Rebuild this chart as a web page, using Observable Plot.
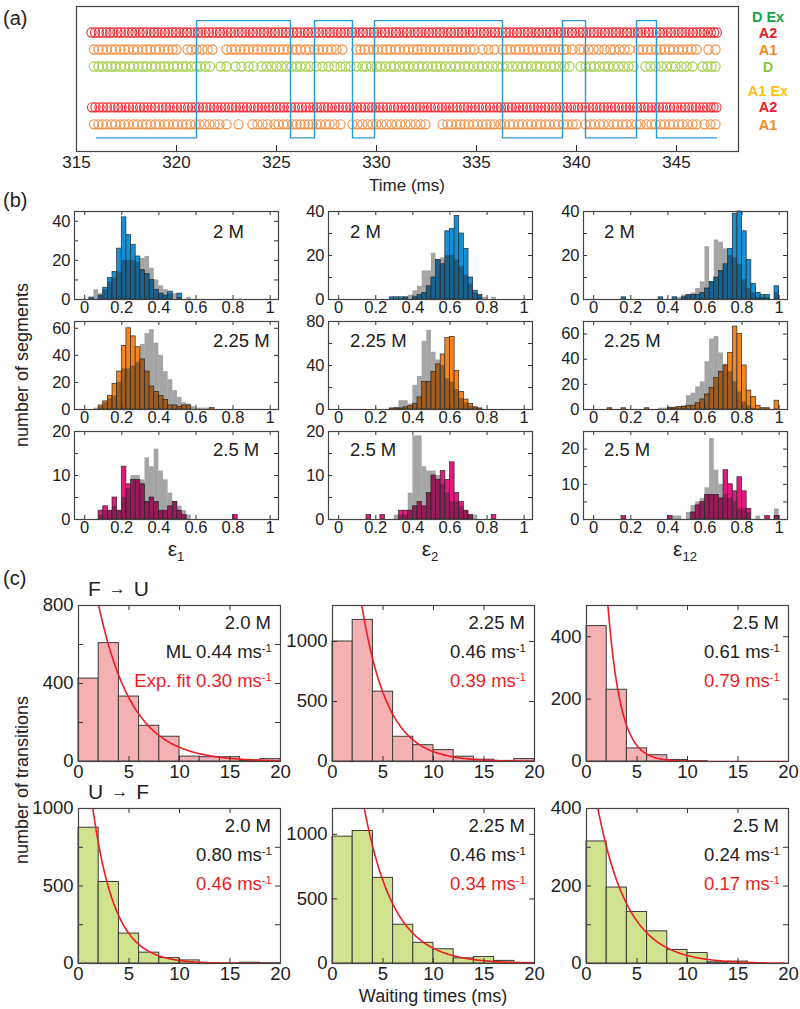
<!DOCTYPE html>
<html><head><meta charset="utf-8">
<script src="https://cdn.jsdelivr.net/npm/d3@7"></script>
<script src="https://cdn.jsdelivr.net/npm/@observablehq/plot@0.6"></script>
<style>
body{margin:0;background:#fff;}
#root{position:relative;width:800px;height:1009px;font-family:"Liberation Sans",Arial,sans-serif;color:#222;overflow:hidden;background:#fff}
.abs{position:absolute;white-space:nowrap;line-height:1}
.sup{font-size:0.62em;position:relative;top:-0.55em}
</style></head><body><div id="root"></div>
<script>
// ---------------- DATA ----------------
// Panel (a): photon arrival times (ms) per detection row
const dexA2 = [315.75,315.93,316.12,316.3,316.5,316.68,316.85,317.05,317.22,317.4,317.6,317.78,317.95,318.15,318.32,318.5,318.7,318.88,319.05,319.25,319.42,319.6,319.8,319.97,320.15,320.35,320.52,320.7,320.9,321.07,321.25,321.45,321.62,321.8,322.0,322.17,322.35,322.55,322.72,322.9,323.1,323.27,323.45,323.65,323.82,324.0,324.2,324.37,324.55,324.75,324.92,325.1,325.3,325.47,325.65,325.85,326.02,326.2,326.4,326.57,326.75,326.95,327.12,327.3,327.5,327.67,327.85,328.05,328.22,328.4,328.6,328.77,328.95,329.15,329.32,329.5,329.7,329.87,330.05,330.25,330.42,330.6,330.8,330.97,331.15,331.35,331.52,331.7,331.9,332.07,332.25,332.45,332.62,332.8,333.0,333.17,333.35,333.55,333.72,333.9,334.1,334.27,334.45,334.65,334.82,335.0,335.2,335.37,335.55,335.75,335.92,336.1,336.3,336.47,336.65,336.85,337.02,337.2,337.4,337.57,337.75,337.95,338.12,338.3,338.5,338.67,338.85,339.05,339.22,339.4,339.6,339.77,339.95,340.15,340.32,340.5,340.7,340.87,341.05,341.25,341.42,341.6,341.8,341.97,342.15,342.35,342.52,342.7,342.9,343.07,343.25,343.45,343.62,343.8,344.0,344.17,344.35,344.55,344.72,344.9,345.1,345.27,345.45,345.65,345.82,346.0,346.2,346.37,346.55,346.72,346.88,347.02];
const dexA1 = [315.87,316.1,316.3,316.5,316.75,316.95,317.2,317.4,317.6,317.85,318.05,318.3,318.5,318.7,318.95,319.15,319.4,319.6,319.8,320.0,320.55,320.75,321.0,321.3,321.55,321.8,322.5,322.75,322.95,323.2,323.4,323.6,323.85,324.05,324.25,324.5,324.7,324.9,325.15,325.35,325.55,325.8,326.0,326.2,326.45,326.65,326.9,327.1,327.3,327.55,327.75,328.0,328.3,329.0,329.2,329.4,329.6,329.85,330.05,330.3,330.5,330.7,330.95,331.15,331.4,331.6,331.85,332.05,332.25,332.45,332.7,332.9,333.15,333.35,333.6,333.8,334.0,334.25,334.45,334.7,334.9,335.3,335.6,335.9,336.3,336.5,336.7,336.95,337.15,337.4,337.6,337.8,338.05,338.25,338.5,338.7,338.9,339.15,339.35,339.5,339.8,340.15,340.35,340.6,340.85,341.1,341.4,341.7,341.9,342.15,342.4,342.65,343.1,343.3,343.55,343.75,344.0,344.2,344.4,344.65,344.85,345.1,345.3,345.55,345.75,346.0,346.6,346.95];
const dexD = [315.87,316.1,316.3,316.55,316.75,316.95,317.2,317.4,317.65,317.85,318.1,318.3,318.5,318.75,318.95,319.2,319.4,319.6,319.85,320.05,320.3,320.5,320.75,321.0,321.2,321.45,321.67,322.2,322.5,322.95,323.25,323.6,323.85,324.25,324.5,324.75,325.0,325.25,325.5,325.75,326.0,326.2,326.45,326.7,327.0,327.3,327.6,327.9,328.2,328.45,328.7,329.0,329.3,329.5,329.75,330.0,330.2,330.45,330.7,330.9,331.15,331.4,331.6,331.85,332.1,332.3,332.55,332.8,333.0,333.2,333.45,333.7,333.95,334.15,334.4,334.6,334.85,335.1,335.3,335.55,335.8,336.05,336.3,336.55,336.8,337.05,337.3,337.5,337.75,338.0,338.2,338.45,338.7,338.9,339.15,339.4,339.65,340.2,340.45,340.7,340.9,341.15,341.4,341.6,341.85,342.1,342.35,342.6,342.85,343.45,343.7,343.95,344.25,344.5,344.75,344.95,345.25,345.5,345.8,346.3,346.55,346.75,346.95];
const aexA2 = [315.78,315.95,316.15,316.33,316.52,316.7,316.9,317.08,317.25,317.45,317.63,317.82,318.0,318.18,318.37,318.55,318.74,318.92,319.1,319.3,319.48,319.66,319.85,320.03,320.22,320.4,320.58,320.77,320.95,321.13,321.32,321.5,321.69,321.87,322.05,322.24,322.42,322.6,322.79,322.97,323.16,323.34,323.52,323.71,323.89,324.08,324.26,324.44,324.63,324.81,325.0,325.18,325.36,325.55,325.73,325.92,326.1,326.28,326.47,326.65,326.84,327.02,327.2,327.39,327.57,327.76,327.94,328.12,328.31,328.49,328.68,328.86,329.04,329.23,329.41,329.6,329.78,329.96,330.15,330.33,330.52,330.7,330.88,331.07,331.25,331.44,331.62,331.8,331.99,332.17,332.36,332.54,332.72,332.91,333.09,333.28,333.46,333.64,333.83,334.01,334.2,334.38,334.56,334.75,334.93,335.12,335.3,335.48,335.67,335.85,336.04,336.22,336.4,336.59,336.77,336.96,337.14,337.32,337.51,337.69,337.88,338.06,338.24,338.43,338.61,338.8,338.98,339.16,339.35,339.53,339.72,339.9,340.08,340.27,340.45,340.64,340.82,341.0,341.19,341.37,341.56,341.74,341.92,342.11,342.29,342.48,342.66,342.84,343.03,343.21,343.4,343.58,343.76,343.95,344.13,344.32,344.5,344.68,344.87,345.05,345.24,345.42,345.6,345.79,345.97,346.16,346.34,346.52,346.71,346.85,347.0];
const aexA1 = [315.87,316.1,316.3,316.5,316.75,316.95,317.2,317.4,317.6,317.85,318.05,318.3,318.5,318.7,318.95,319.15,319.4,319.6,319.85,320.05,320.3,320.5,320.7,320.95,321.15,321.4,321.65,321.9,322.15,322.5,323.1,323.8,324.05,324.3,324.55,324.9,325.1,325.35,325.55,325.8,326.0,326.2,326.4,326.6,326.8,327.0,327.2,327.45,327.65,327.9,328.2,328.8,329.05,329.3,329.55,329.8,330.0,330.25,330.5,330.75,331.0,331.2,331.45,331.7,331.95,332.2,332.45,333.3,333.55,333.75,334.0,334.2,334.4,334.6,334.85,335.05,335.3,335.5,335.7,335.9,336.2,336.4,336.65,336.85,337.1,337.3,337.55,337.75,338.0,338.2,338.45,338.65,338.9,339.1,339.35,339.55,339.8,340.0,340.45,340.7,340.9,341.15,341.35,341.6,341.85,342.05,342.3,342.5,342.75,343.0,343.2,343.5,343.75,343.95,344.2,344.4,344.65,344.85,345.1,345.3,345.55,345.8,346.0,346.4,346.7,346.95];
// state trace (ms) and state (1 = high)
const traceTimes = [316.0,321.0,325.7,326.9,328.8,329.9,336.3,339.3,340.45,343.0,344.0,347.0];
const traceState = [0,1,0,1,0,1,0,1,0,1,0,0];

// Panel (b): histogram counts, bins of width 0.025 starting at 0
const e1_2M   = [0,1,0,2,6,11,14,26,42,33,28,22,15,13,10,5,3,2,4,0,3,0,0,0,0,0,0,0,0,0,0,0,0,0,0,0,0,0,0,0];
const e1_2M_g = [0,0,5,3,5,9,11,14,20,20,20,19,21,22,16,10,7,5,3,3,1,0,1,0,0,0,0,0,0,0,0,0,0,0,0,0,0,0,0,0];
const e1_225   = [0,0,0,3,6,10,19,28,47,60,54,46,37,28,17,13,10,7,3,3,2,3,3,0,0,0,0,1,0,0,0,0,0,0,0,0,0,0,0,0];
const e1_225_g = [0,0,1,2,5,8,10,20,30,30,32,35,48,56,59,49,40,28,22,14,9,5,4,2,1,1,1,0,0,0,0,0,0,0,0,0,0,0,0,0];
const e1_25   = [0,0,0,2,3,2,5,2,12,8,9,9,8,4,5,4,2,2,3,4,2,1,0,0,0,0,0,0,0,0,0,0,1,0,0,0,0,0,0,0];
const e1_25_g = [0,0,0,1,2,2,3,2,5,7,10,10,9,14,12,16,11,9,6,4,3,2,1,0,0,0,0,0,0,0,0,0,0,0,0,0,0,0,0,0];
const e2_2M   = [0,0,0,0,0,0,0,0,0,0,0,1,1,1,1,0,1,2,3,6,10,18,16,31,32,38,30,23,10,4,2,0,0,0,0,0,0,0,0,0];
const e2_2M_g = [0,0,0,0,0,0,0,0,0,0,0,0,0,0,1,2,4,6,13,13,21,18,19,20,20,18,15,11,7,3,2,1,0,1,0,0,0,0,0,0];
const e2_225   = [0,0,0,0,0,0,0,0,0,0,0,1,1,1,2,3,5,11,25,25,34,41,50,65,66,35,16,9,5,2,1,0,0,0,0,0,0,0,0,0];
const e2_225_g = [0,0,0,0,0,0,0,0,0,0,0,0,2,8,8,5,22,30,62,72,52,45,40,28,25,18,10,6,3,2,0,0,0,0,0,0,0,0,0,0];
const e2_25   = [0,0,0,0,0,0,1,0,0,1,0,0,0,2,2,2,3,4,3,6,10,9,11,9,13,6,4,2,1,0,0,0,0,1,0,0,0,0,0,0];
const e2_25_g = [0,0,0,0,0,0,0,0,0,0,0,0,1,1,1,6,19,19,12,11,11,10,8,6,4,4,3,2,1,1,0,0,0,0,0,0,0,0,0,0];
const e12_2M   = [0,0,0,0,0,0,1,0,0,0,0,0,0,0,1,0,0,1,0,1,2,2,2,3,5,8,10,13,16,23,39,40,31,18,7,3,2,2,0,6];
const e12_2M_g = [0,0,0,0,0,0,0,0,0,0,0,0,0,0,0,0,0,0,1,2,2,3,5,8,24,8,27,26,23,20,19,16,9,5,3,1,1,1,0,3];
const e12_225   = [0,0,0,1,0,0,1,0,0,0,0,1,0,0,0,0,1,1,2,2,3,3,5,8,12,17,25,30,35,45,66,60,35,15,10,3,1,1,0,7];
const e12_225_g = [0,0,0,0,0,0,0,0,0,0,0,0,0,0,1,1,2,2,2,3,11,13,18,22,38,56,58,45,36,30,22,14,6,3,1,0,0,0,0,0];
const e12_25   = [0,0,0,0,0,0,1,0,0,0,0,0,0,0,0,0,1,0,0,0,0,2,4,5,7,7,7,6,14,10,8,12,8,3,0,0,0,1,0,1];
const e12_25_g = [0,0,0,0,0,0,0,0,0,0,0,0,0,0,0,0,0,1,1,0,2,4,5,6,9,23,14,10,7,6,5,3,3,2,0,1,0,0,0,3];
const binWidthB = 0.025;
const concB = ["2 M", "2.25 M", "2.5 M"];
const epsNames = ["1", "2", "12"];

// Panel (c): waiting-time histograms, bins of 2 ms from 0 to 20
const fu20  = [425,607,333,183,127,25,22,22,5,12];
const fu225 = [1000,1180,582,206,136,95,40,15,5,20];
const fu25  = [434,230,42,20,5,1,0,0,0,0];
const uf20  = [876,526,193,70,35,20,3,1,5,2];
const uf225 = [982,1026,663,300,160,110,40,50,20,5];
const uf25  = [315,196,133,83,35,27,3,5,0,0];
const binWidthC = 2;
const concC = ["2.0 M", "2.25 M", "2.5 M"];
const mlRatesFU = ["0.44", "0.46", "0.61"];
const fitRatesFU = ["0.30", "0.39", "0.79"];
const mlRatesUF = ["0.80", "0.46", "0.24"];
const fitRatesUF = ["0.46", "0.34", "0.17"];
// exponential curves as drawn: amplitude and decay rate (1/ms)
const curveAmpFU = [1458, 4030, 2670];
const curveRateFU = [0.30, 0.39, 0.79];
const curveAmpUF = [1922, 3504, 584];
const curveRateUF = [0.46, 0.34, 0.335];

// ---------------- DRAWING ----------------
const FONT = '"Liberation Sans", Arial, sans-serif';
const root = document.getElementById("root");
const BLUE = "#1290d8", ORANGE = "#f5861f", MAGENTA = "#e6177f";
const PINK = "#f5b0b4", GREEN = "#d1e28e";

function addText(html, x, y, o = {}) {
  const d = document.createElement("div");
  d.className = "abs";
  d.innerHTML = html;
  const s = d.style;
  s.left = x + "px"; s.top = y + "px";
  s.fontSize = (o.size || 17) + "px";
  s.fontFamily = o.family || FONT;
  if (o.color) s.color = o.color;
  if (o.weight) s.fontWeight = o.weight;
  const tx = o.anchor === "end" ? "-100%" : o.anchor === "middle" ? "-50%" : "0";
  s.transform = `translate(${tx}, -50%)` + (o.rotate ? ` rotate(${o.rotate}deg)` : "");
  root.appendChild(d);
}

function framePanel(o) {
  const ml = 50, mr = 8, mt = 8, mb = 30;
  const {left, top, w, h} = o;
  const tl = o.tickLen || 4;
  const ts = "#333";
  const marks = [...o.marks];
  marks.push(Plot.tickX(o.xTicks, {x: d => d, insetTop: h - tl, stroke: ts}));
  if (o.mirror) marks.push(Plot.tickX(o.xTicks, {x: d => d, insetBottom: h - tl, stroke: ts}));
  if (o.yTicks) {
    marks.push(Plot.tickY(o.yTicks, {y: d => d, insetRight: w - tl, stroke: ts}));
    if (o.mirror) marks.push(Plot.tickY(o.yTicks, {y: d => d, insetLeft: w - tl, stroke: ts}));
  }
  marks.push(Plot.axisX(o.xLabels, {tickSize: 0, tickPadding: o.xPad ?? 3, tickFormat: d => String(d), label: null, fill: "#222"}));
  if (o.yLabels) marks.push(Plot.axisY(o.yLabels, {tickSize: 0, tickPadding: o.yPad ?? 4, tickFormat: d => String(d), label: null, fill: "#222"}));
  marks.push(Plot.frame({stroke: "#444", strokeWidth: 1.2}));
  const svg = Plot.plot({
    width: w + ml + mr, height: h + mt + mb,
    marginLeft: ml, marginRight: mr, marginTop: mt, marginBottom: mb,
    x: {domain: o.xDomain},
    y: o.yLabels ? {domain: o.yDomain} : {domain: o.yDomain, axis: null},
    style: {background: "none", fontSize: (o.fontSize || 15) + "px", fontFamily: FONT, color: "#222", overflow: "visible"},
    marks
  });
  svg.style.position = "absolute";
  svg.style.left = (left - ml) + "px";
  svg.style.top = (top - mt) + "px";
  root.appendChild(svg);
}

// ----- Panel (a)
const rowsA = [
  {t: dexA2, y: 7, c: "#ee2a2f"},
  {t: dexA1, y: 6, c: "#f28a3a"},
  {t: dexD, y: 5, c: "#9fcb3e"},
  {t: aexA2, y: 2.6, c: "#ee2a2f"},
  {t: aexA1, y: 1.6, c: "#f28a3a"}
];
const traceLow = 0.8, traceHigh = 7.7;
const trace = traceTimes.map((t, i) => ({t, s: traceState[i] ? traceHigh : traceLow}));
framePanel({
  left: 76, top: 6, w: 662, h: 145,
  xDomain: [315, 348.1], yDomain: [0, 8.53],
  xTicks: [320, 325, 330, 335, 340, 345],
  xLabels: [315, 320, 325, 330, 335, 340, 345],
  tickLen: 6, mirror: false, fontSize: 17, xPad: 4,
  marks: [
    ...rowsA.map(r => Plot.dot(r.t, {x: d => d, y: () => r.y, r: 4.6, stroke: r.c, strokeWidth: 1.1, fill: "none"})),
    Plot.line(trace, {x: "t", y: "s", curve: "step-after", stroke: "#2a9ad6", strokeWidth: 1.4})
  ]
});
addText("Time (ms)", 407, 185, {anchor: "middle", size: 17});
addText("(a)", 3, 18, {size: 20});
const legA = [["D Ex", "#16a34a", "bold", 16.5], ["A2", "#ee1c25", "bold", 33], ["A1", "#f28a30", "bold", 50],
  ["D", "#8cc63f", "bold", 67], ["A1 Ex", "#fcc10f", "bold", 90.5], ["A2", "#ee1c25", "bold", 107.3], ["A1", "#f28a30", "bold", 124.5]];
legA.forEach(([t, c, wgt, y]) => addText(t, 768, y, {anchor: "middle", size: 14.5, color: c, weight: wgt, family: '"Liberation Sans Narrow", "Liberation Sans", Arial, sans-serif'}));

// ----- Panel (b)
const bCols = [74, 328, 583], bRows = [211, 321, 431], bW = 204, bH = 88;
const bData = [
  [[e1_2M, e1_2M_g], [e1_225, e1_225_g], [e1_25, e1_25_g]],
  [[e2_2M, e2_2M_g], [e2_225, e2_225_g], [e2_25, e2_25_g]],
  [[e12_2M, e12_2M_g], [e12_225, e12_225_g], [e12_25, e12_25_g]]
];
const bColors = [BLUE, ORANGE, MAGENTA];
const bY = [
  [{d: [0, 45], t: [0, 10, 20, 30, 40], l: [0, 20, 40]}, {d: [0, 65], t: [0, 20, 40, 60], l: [0, 20, 40, 60]}, {d: [0, 20], t: [0, 5, 10, 15, 20], l: [0, 10, 20]}],
  [{d: [0, 40], t: [0, 10, 20, 30, 40], l: [0, 20, 40]}, {d: [0, 80], t: [0, 20, 40, 60, 80], l: [0, 40, 80]}, {d: [0, 20], t: [0, 5, 10, 15, 20], l: [0, 10, 20]}],
  [{d: [0, 40], t: [0, 10, 20, 30, 40], l: [0, 20, 40]}, {d: [0, 70], t: [0, 20, 40, 60], l: [0, 20, 40, 60]}, {d: [0, 25], t: [0, 5, 10, 15, 20, 25], l: [0, 10, 20]}]
];
const toBins = (arr, bw) => arr.map((v, i) => ({x1: i * bw, x2: (i + 1) * bw, y: v})).filter(d => d.y > 0);
const bLabelX = [213, 350, 604], bLabelY = [232, 341, 450];
for (let c = 0; c < 3; c++) {
  for (let r = 0; r < 3; r++) {
    const [col, gray] = bData[c][r];
    framePanel({
      left: bCols[c], top: bRows[r], w: bW, h: bH,
      xDomain: [-0.055, 1.045], yDomain: bY[c][r].d,
      xTicks: [0, 0.2, 0.4, 0.6, 0.8, 1], xLabels: [0, 0.2, 0.4, 0.6, 0.8, 1],
      yTicks: bY[c][r].t, yLabels: bY[c][r].l,
      mirror: true, tickLen: 4, fontSize: 16.5, xPad: 2, yPad: 4,
      marks: [
        Plot.rectY(toBins(col, binWidthB), {x1: "x1", x2: "x2", y: "y", fill: bColors[r], stroke: "#2a2a2a", strokeWidth: 0.7}),
        Plot.rectY(toBins(gray, binWidthB), {x1: "x1", x2: "x2", y: "y", fill: "#1e1e1e", fillOpacity: 0.4})
      ]
    });
    addText(concB[r], bLabelX[c], bLabelY[r], {size: 18.5});
  }
  addText(`ε<span style="font-size:13px;position:relative;top:5px">${epsNames[c]}</span>`, bCols[c] + bW / 2, 548, {anchor: "middle", size: 21});
}
addText("(b)", 3, 200, {size: 20});
addText("number of segments", 22, 365, {anchor: "middle", size: 18, rotate: -90});

// ----- Panel (c)
const cCols = [78, 332, 586], cW = 202;
const cRowTop = [605, 808], cRowH = [156, 155];
const cHist = [[fu20, fu225, fu25], [uf20, uf225, uf25]];
const cFill = [PINK, GREEN];
const cY = [
  [{d: [0, 800], t: [0, 200, 400, 600, 800], l: [0, 400, 800]}, {d: [0, 1300], t: [0, 500, 1000], l: [0, 500, 1000]}, {d: [0, 500], t: [0, 200, 400], l: [0, 200, 400]}],
  [{d: [0, 1000], t: [0, 250, 500, 750, 1000], l: [0, 500, 1000]}, {d: [0, 1200], t: [0, 500, 1000], l: [0, 500, 1000]}, {d: [0, 400], t: [0, 100, 200, 300, 400], l: [0, 200, 400]}]
];
const cAmp = [curveAmpFU, curveAmpUF], cRate = [curveRateFU, curveRateUF];
const cML = [mlRatesFU, mlRatesUF], cFit = [fitRatesFU, fitRatesUF];
const tGrid = d3.range(0, 20.05, 0.1);
const cTextY = [[623, 652, 681], [826, 855, 884]];
const msInv = '<span class="sup">-1</span>';
for (let r = 0; r < 2; r++) {
  for (let c = 0; c < 3; c++) {
    const A = cAmp[r][c], k = cRate[r][c];
    framePanel({
      left: cCols[c], top: cRowTop[r], w: cW, h: cRowH[r],
      xDomain: [0, 20], yDomain: cY[r][c].d,
      xTicks: [0, 5, 10, 15, 20], xLabels: [0, 5, 10, 15, 20],
      yTicks: cY[r][c].t, yLabels: cY[r][c].l,
      mirror: true, tickLen: 5, fontSize: 18.5, xPad: 3, yPad: 5,
      marks: [
        Plot.rectY(toBins(cHist[r][c], binWidthC), {x1: "x1", x2: "x2", y: "y", fill: cFill[r], stroke: "#3a3a3a", strokeWidth: 1}),
        Plot.line(tGrid, {x: t => t, y: t => A * Math.exp(-k * t), stroke: "#ee1c25", strokeWidth: 1.6, clip: true})
      ]
    });
    const xr = cCols[c] + cW - 9;
    addText(concC[c], xr, cTextY[r][0], {anchor: "end", size: 18.5});
    const mlPrefix = (r === 0 && c === 0) ? "ML " : "";
    const fitPrefix = (r === 0 && c === 0) ? "Exp. fit " : "";
    addText(`${mlPrefix}${cML[r][c]} ms${msInv}`, xr + 1, cTextY[r][1], {anchor: "end", size: 18.5});
    addText(`${fitPrefix}${cFit[r][c]} ms${msInv}`, xr + 1, cTextY[r][2], {anchor: "end", size: 18.5, color: "#ee1c25"});
  }
}
const arrow = '<span style="font-size:17px;position:relative;top:-2px;margin:0 8px">&#8594;</span>';
addText(`F${arrow}U`, 88, 588, {size: 21});
addText(`U${arrow}F`, 88, 791, {size: 21});
addText("(c)", 3, 578, {size: 20});
addText("number of transitions", 22, 780, {anchor: "middle", size: 18, rotate: -90});
addText("Waiting times (ms)", 433, 996, {anchor: "middle", size: 18});
</script></body></html>
